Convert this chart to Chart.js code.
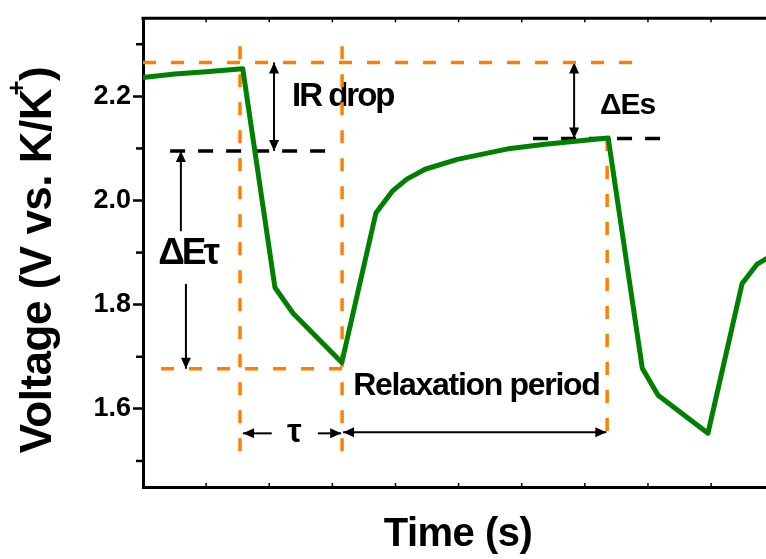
<!DOCTYPE html>
<html>
<head>
<meta charset="utf-8">
<script src="https://cdn.jsdelivr.net/npm/chart.js@4.4.1/dist/chart.umd.min.js"></script>
<style>
  html, body { margin: 0; padding: 0; background: #fff; overflow: hidden; }
  canvas { display: block; }
</style>
</head>
<body>
<canvas id="myChart" width="766" height="559"></canvas>
<script>
// measured trace (time in tick units, voltage in V)
const timeS = [0, 0.5, 1.0, 1.58, 2.09, 2.38, 3.15, 3.69, 3.95, 4.18, 4.47, 4.98, 5.82, 6.37, 7.37, 7.91, 8.16, 8.95, 9.49, 9.73, 10.25];
const voltage = [2.236, 2.243, 2.247, 2.253, 1.833, 1.783, 1.689, 1.976, 2.018, 2.041, 2.060, 2.079, 2.100, 2.108, 2.120, 1.678, 1.626, 1.553, 1.840, 1.878, 1.915];

const yMajor = [1.6, 1.8, 2.0, 2.2];
const yMinor = [1.5, 1.7, 1.9, 2.1, 2.3];
const xTicks = [1, 2, 3, 4, 5, 6, 7, 8, 9];

// guide lines: [xStart, xEnd, y] and [x, yStart, yEnd]
const orangeH = [[0, 7.85, 2.265], [0.285, 3.154, 1.677]];
const orangeV = [[1.537, 2.296, 1.503], [3.154, 2.296, 1.516], [7.353, 2.120, 1.543]];
const blackH = [[0.43, 2.96, 2.095], [6.18, 8.24, 2.119]];

// arrows: [x0, y0, x1, y1, doubleHeaded]
const arrows = [
  [2.076, 2.095, 2.076, 2.265, true],
  [6.83, 2.119, 6.83, 2.265, true],
  [0.60, 1.941, 0.60, 2.095, false],
  [0.68, 1.840, 0.68, 1.677, false],
  [2.04, 1.553, 1.585, 1.553, false],
  [2.77, 1.553, 3.14, 1.553, false],
  [3.17, 1.555, 7.34, 1.555, true]
];

// text notes: [text, x, y(baseline)]
const notes = [
  ['IR drop', 2.36, 2.181],
  ['\u0394Es', 7.24, 2.167],
  ['\u0394E\u03C4', 0.24, 1.878],
  ['\u03C4', 2.28, 1.536],
  ['Relaxation period', 3.33, 1.626]
];
const noteSize = [33, 30, 37, 33, 32];
const noteSpacing = [-2, -1, -3, 0, -1.3];

const FONT = '"Liberation Sans", Arial, sans-serif';
const ORANGE = '#ff8000';

const datasets = [{
  data: timeS.map((t, i) => ({ x: t, y: voltage[i] })),
  borderColor: '#008000',
  borderWidth: 5,
  pointRadius: 0,
  tension: 0,
  borderJoinStyle: 'round'
}];
orangeH.forEach(h => datasets.push({
  data: [{ x: h[0], y: h[2] }, { x: h[1], y: h[2] }],
  borderColor: ORANGE, borderWidth: 3.5, borderDash: [13, 15], pointRadius: 0
}));
orangeV.forEach(v => datasets.push({
  data: [{ x: v[0], y: v[1] }, { x: v[0], y: v[2] }],
  borderColor: ORANGE, borderWidth: 3.5, borderDash: [13, 15], pointRadius: 0
}));
blackH.forEach(h => datasets.push({
  data: [{ x: h[0], y: h[2] }, { x: h[1], y: h[2] }],
  borderColor: '#000', borderWidth: 3.5, borderDash: [15, 13], pointRadius: 0
}));

function head(ctx, x, y, a) {
  const L = 11, W = 5;
  ctx.beginPath();
  ctx.moveTo(x, y);
  ctx.lineTo(x - L * Math.cos(a) + W * Math.sin(a), y - L * Math.sin(a) - W * Math.cos(a));
  ctx.lineTo(x - L * Math.cos(a) - W * Math.sin(a), y - L * Math.sin(a) + W * Math.cos(a));
  ctx.closePath();
  ctx.fill();
}

const annotate = {
  id: 'annotate',
  beforeDatasetsDraw(chart) {
    const { ctx, scales: { x, y } } = chart;
    ctx.save();
    ctx.fillStyle = '#000';
    ctx.strokeStyle = '#000';
    ctx.textBaseline = 'alphabetic';
    ctx.textAlign = 'left';
    notes.forEach((n, i) => {
      ctx.font = 'bold ' + noteSize[i] + 'px ' + FONT;
      ctx.letterSpacing = noteSpacing[i] + 'px';
      ctx.fillText(n[0], x.getPixelForValue(n[1]), y.getPixelForValue(n[2]));
    });
    ctx.letterSpacing = '0px';
    ctx.lineWidth = 2;
    arrows.forEach(a => {
      const x0 = x.getPixelForValue(a[0]), y0 = y.getPixelForValue(a[1]);
      const x1 = x.getPixelForValue(a[2]), y1 = y.getPixelForValue(a[3]);
      const ang = Math.atan2(y1 - y0, x1 - x0);
      ctx.beginPath();
      ctx.moveTo(x0, y0);
      ctx.lineTo(x1, y1);
      ctx.stroke();
      head(ctx, x1, y1, ang);
      if (a[4]) head(ctx, x0, y0, ang + Math.PI);
    });
    ctx.restore();
  },
  afterDraw(chart) {
    const { ctx, chartArea: area, scales: { x, y } } = chart;
    ctx.save();
    ctx.strokeStyle = '#000';
    // top frame line
    ctx.lineWidth = 3;
    ctx.beginPath();
    ctx.moveTo(area.left - 1.5, area.top);
    ctx.lineTo(area.right, area.top);
    ctx.stroke();
    // minor y ticks
    ctx.lineWidth = 2.5;
    yMinor.forEach(v => {
      const py = y.getPixelForValue(v);
      ctx.beginPath();
      ctx.moveTo(area.left - 7, py);
      ctx.lineTo(area.left, py);
      ctx.stroke();
    });
    // small inward x ticks, bottom and top
    ctx.lineWidth = 1.5;
    xTicks.forEach(v => {
      const px = x.getPixelForValue(v);
      ctx.beginPath();
      ctx.moveTo(px, area.bottom);
      ctx.lineTo(px, area.bottom - 4);
      ctx.moveTo(px, area.top);
      ctx.lineTo(px, area.top + 4);
      ctx.stroke();
    });
    // axis titles
    ctx.fillStyle = '#000';
    ctx.textBaseline = 'alphabetic';
    ctx.textAlign = 'center';
    ctx.font = 'bold 40px ' + FONT;
    ctx.letterSpacing = '-0.5px';
    ctx.fillText('Time (s)', 458, 546);

    ctx.translate(51, 260);
    ctx.rotate(-Math.PI / 2);
    ctx.textAlign = 'left';
    ctx.font = 'bold 44px ' + FONT;
    ctx.letterSpacing = '-0.5px';
    const main = 'Voltage (V vs. K/K';
    const w1 = ctx.measureText(main).width;
    const w2 = ctx.measureText(')').width;
    const total = w1 + 8 + w2;
    const sx = -total / 2;
    ctx.fillText(main, sx, 0);
    ctx.fillText(')', sx + w1 + 8, 0);
    ctx.letterSpacing = '0px';
    ctx.font = 'bold 26px ' + FONT;
    ctx.textAlign = 'center';
    ctx.textBaseline = 'middle';
    ctx.fillText('+', sx + w1 + 1, -33);
    ctx.restore();
  }
};

new Chart(document.getElementById('myChart'), {
  type: 'line',
  data: { datasets },
  options: {
    responsive: false,
    animation: false,
    devicePixelRatio: 1,
    layout: { padding: { top: 17, right: 0, left: 0, bottom: 0 } },
    plugins: {
      legend: { display: false },
      tooltip: { enabled: false }
    },
    scales: {
      x: {
        type: 'linear',
        min: 0,
        max: 9.87,
        grid: { display: false },
        border: { display: true, color: '#000', width: 3 },
        ticks: { display: false },
        afterFit(s) { s.height = 72; }
      },
      y: {
        type: 'linear',
        min: 1.45,
        max: 2.35,
        afterBuildTicks(s) { s.ticks = yMajor.concat(yMinor).sort().map(v => ({ value: v })); },
        grid: {
          display: true,
          drawOnChartArea: false,
          drawTicks: true,
          tickLength: 10,
          tickWidth: 2.5,
          tickColor: c => (c.tick && yMajor.includes(c.tick.value)) ? '#000' : 'rgba(0,0,0,0)'
        },
        border: { display: true, color: '#000', width: 3 },
        ticks: {
          padding: 2,
          color: '#000',
          font: { family: FONT, size: 27, weight: 'bold' },
          callback: v => yMajor.includes(v) ? v.toFixed(1) : ''
        },
        afterFit(s) { s.width = 143; }
      }
    }
  },
  plugins: [annotate]
});
</script>
</body>
</html>
